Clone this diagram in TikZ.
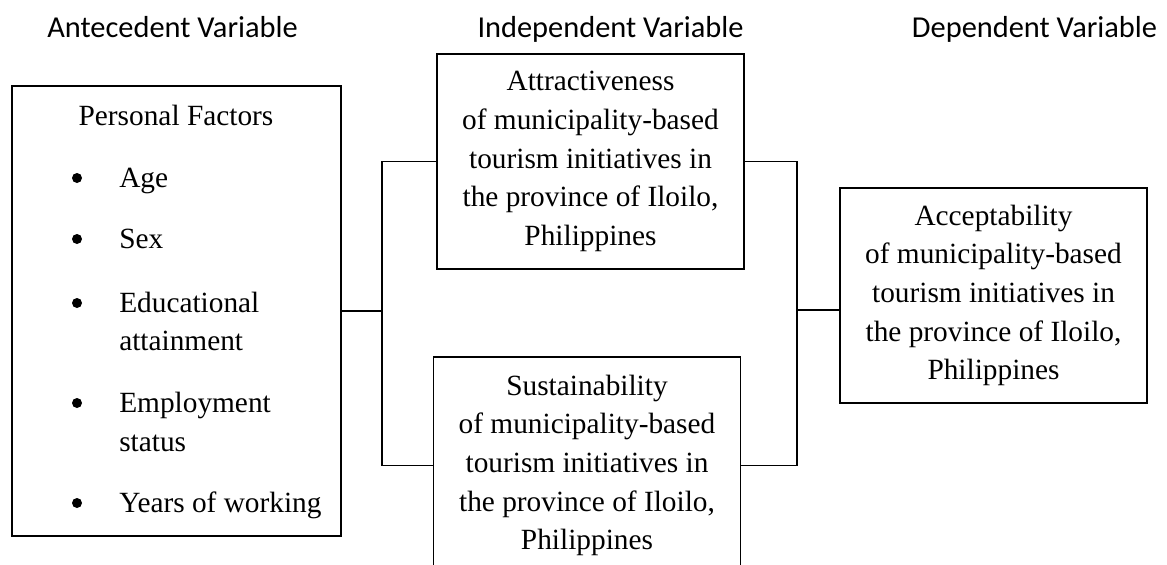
\documentclass[tikz,border=0pt]{standalone}
\usepackage{fontspec}
\setmainfont{Liberation Serif}
\newfontfamily\headfont{Carlito}
\usepackage{tikz}
\usetikzlibrary{positioning, calc}
\tikzset{
    var_box/.style={
        rectangle, draw=black, line width=1.1pt, inner sep=0pt,
        minimum width=230pt, minimum height=161pt,
        align=center, font=\fontsize{22}{29}\selectfont
    },
    head_lbl/.style={
        anchor=base, inner sep=0pt, font=\headfont\fontsize{22.8}{27}\selectfont
    },
    item_lbl/.style={
        anchor=base west, inner sep=0pt, font=\fontsize{22}{29}\selectfont
    },
    bullet_dot/.style={
        circle, fill=black, inner sep=0pt, minimum size=7.5pt
    },
    link_line/.style={
        draw=black, line width=1.1pt
    }
}
\begin{document}
\begin{tikzpicture}[x=0.75pt, y=-0.75pt]
    \useasboundingbox (0,0) rectangle (1167,564);

    % Column headings
    \node[head_lbl] (h_ante) at (172.5,37) {Antecedent Variable};
    \node[head_lbl] (h_indep) at (610.5,37) {Independent Variable};
    \node[head_lbl] (h_dep) at (1034.5,37) {Dependent Variable};

    % Antecedent box
    \node[var_box, minimum width=246.75pt, minimum height=337.5pt] (personal) at (176.5,311) {};
    \node[item_lbl, anchor=base] (personal_title) at (176,125) {Personal Factors};
    \foreach \yy/\txt in {187/Age, 248/Sex, 312/Educational, 350/attainment, 412/Employment, 451/status, 512/Years of working}
        \node[item_lbl] (item_\yy) at (119,\yy) {\txt};
    \foreach \yy in {187, 248, 312, 412, 512}
        \node[bullet_dot] (dot_\yy) at (77,\yy-9) {};

    % Independent boxes
    \node[var_box] (attract) at (590.5,161.5) {Attractiveness\\of municipality-based\\tourism initiatives in\\the province of Iloilo,\\Philippines};
    \node[var_box, minimum height=162.75pt] (sustain) at (587,465.5) {Sustainability\\of municipality-based\\tourism initiatives in\\the province of Iloilo,\\Philippines};

    % Dependent box
    \node[var_box] (accept) at (993.5,295.5) {Acceptability\\of municipality-based\\tourism initiatives in\\the province of Iloilo,\\Philippines};

    % Connectors
    \coordinate (join_left) at (382,311);
    \coordinate (join_right) at (797,310);
    \draw[link_line] (personal.east) -- (join_left);
    \draw[link_line] (attract.west) -| (join_left) |- (sustain.west);
    \draw[link_line] (attract.east) -| (join_right) |- (sustain.east);
    \draw[link_line] (join_right) -- (join_right -| accept.west);
\end{tikzpicture}
\end{document}
